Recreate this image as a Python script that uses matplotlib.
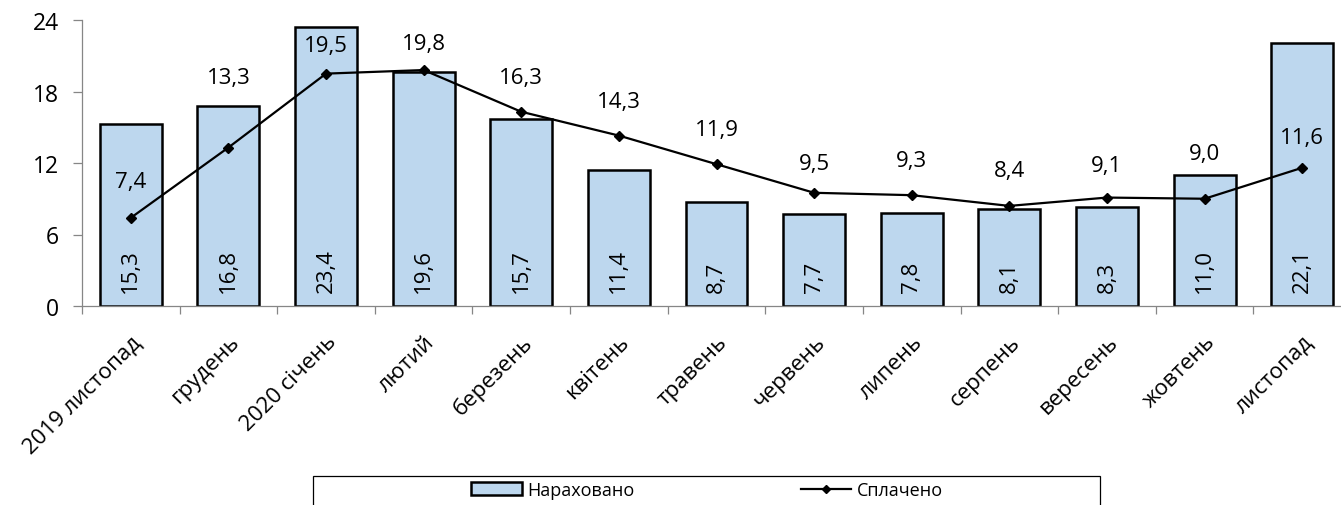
import matplotlib
matplotlib.use("Agg")
import matplotlib.pyplot as plt
from matplotlib.patches import Rectangle, Patch
from matplotlib.lines import Line2D
import numpy as np

categories = ["2019 листопад", "грудень", "2020 січень", "лютий", "березень", "квітень",
              "травень", "червень", "липень", "серпень", "вересень", "жовтень", "листопад"]
accrued = [15.3, 16.8, 23.4, 19.6, 15.7, 11.4, 8.7, 7.7, 7.8, 8.1, 8.3, 11.0, 22.1]
paid = [7.4, 13.3, 19.5, 19.8, 16.3, 14.3, 11.9, 9.5, 9.3, 8.4, 9.1, 9.0, 11.6]
series_names = ["Нараховано", "Сплачено"]
yticks = [0, 6, 12, 18, 24]

# label offsets above line points (pixels), as manually placed in the original
paid_label_offsets_px = [36, 70, 28, 27, 34, 34, 35, 29, 35, 35, 32, 45, 30]

plt.rcParams['font.family'] = ['Open Sans', 'DejaVu Sans']
FS = 16

W, H = 1341, 506
fig = plt.figure(figsize=(W / 100, H / 100), dpi=100)
ax = fig.add_axes([82 / W, 1 - 307 / H, (1351 - 82) / W, (307 - 21) / H])

x = np.arange(len(categories))
ax.bar(x, accrued, width=0.635, color="#BDD7EE", edgecolor="black", linewidth=1.8, zorder=2)
ax.plot(x, paid, color="black", linewidth=1.6, marker="D", markersize=5.5, zorder=3)

ax.set_xlim(-0.5, len(categories) - 0.5)
ax.set_ylim(0, 24)
ax.set_yticks(yticks)
ax.set_yticklabels([str(v) for v in yticks], fontsize=FS + 0.5)

for s in ["top", "right"]:
    ax.spines[s].set_visible(False)
for s in ["left", "bottom"]:
    ax.spines[s].set_color("#868686")
    ax.spines[s].set_linewidth(0.9)
ax.tick_params(axis="y", length=6.5, width=0.9, color="#868686", pad=10)

ax.set_xticks(x)
ax.set_xticklabels(categories, fontsize=FS, rotation=45, ha="right", rotation_mode="anchor")
ax.tick_params(axis="x", which="major", length=0, pad=18)
ax.set_xticks(np.arange(-0.5, len(categories), 1.0), minor=True)
ax.tick_params(axis="x", which="minor", length=6, width=0.9, color="#868686")

def fmt(v):
    return f"{v:.1f}".replace(".", ",")

for xi, v in zip(x, accrued):
    ax.annotate(fmt(v), (xi, 0), xytext=(0, 10), textcoords="offset points",
                rotation=90, ha="center", va="bottom", fontsize=FS, zorder=4)

for xi, v, off in zip(x, paid, paid_label_offsets_px):
    ax.annotate(fmt(v), (xi, v), xytext=(0, off * 0.72), textcoords="offset points",
                ha="center", va="center", fontsize=FS, zorder=4)

# legend frame (cut off by the bottom of the image, as in the original)
fig.add_artist(Rectangle((313 / W, -0.2), (1100 - 313) / W, 0.2 + (1 - 477 / H),
                         transform=fig.transFigure, fill=False, edgecolor="black", linewidth=0.9))
handles = [Patch(facecolor="#BDD7EE", edgecolor="black", linewidth=1.8),
           Line2D([], [], color="black", linewidth=1.6, marker="D", markersize=4.5)]
fig.legend(handles, series_names, loc="center", bbox_to_anchor=(707 / W, 1 - 491 / H),
           ncol=2, frameon=False, fontsize=13, handlelength=2.8, handleheight=0.75,
           handletextpad=0.3, columnspacing=9.2, borderpad=0.1)

fig.savefig("out.png", dpi=100)
